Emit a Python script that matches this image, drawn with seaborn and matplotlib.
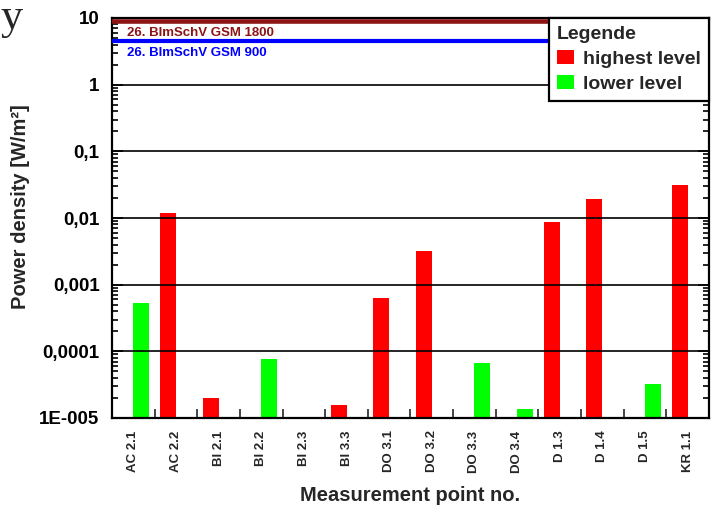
import matplotlib
matplotlib.use("Agg")
import matplotlib.pyplot as plt
import seaborn as sns
import pandas as pd
from matplotlib.ticker import FixedLocator, LogLocator, NullFormatter, FixedFormatter

# Measurement points on the x axis
points = ["AC 2.1", "AC 2.2", "BI 2.1", "BI 2.2", "BI 2.3", "BI 3.3", "DO 3.1",
          "DO 3.2", "DO 3.3", "DO 3.4", "D 1.3", "D 1.4", "D 1.5", "KR 1.1"]
# Which level was measured at each point (None: nothing recorded)
levels = ["lower level", "highest level", "highest level", "lower level", None,
          "highest level", "highest level", "highest level", "lower level",
          "lower level", "highest level", "highest level", "lower level",
          "highest level"]
# Power density in W/m²
power_density = [5.3e-4, 0.012, 2.0e-5, 7.7e-5, None, 1.55e-5, 6.3e-4,
                 3.2e-3, 6.7e-5, 1.36e-5, 8.8e-3, 0.0195, 3.2e-5, 0.031]

level_order = ["highest level", "lower level"]
level_colors = ["#FF0000", "#00FF00"]

# Limit values from the 26. BImSchV
limit_values = [9.0, 4.5]
limit_labels = ["26. BImSchV GSM 1800", "26. BImSchV GSM 900"]
limit_colors = ["#8C1414", "#0000FF"]

y_ticks = [1e-5, 1e-4, 1e-3, 1e-2, 1e-1, 1, 10]
y_tick_labels = ["1E-005", "0,0001", "0,001", "0,01", "0,1", "1", "10"]

df = pd.DataFrame({"point": points, "level": levels, "value": power_density}).dropna()

sns.set_style("white")
plt.rcParams["font.family"] = ["Liberation Sans", "DejaVu Sans"]
plt.rcParams["font.weight"] = "bold"

fig = plt.figure(figsize=(7.17, 5.19), dpi=100)
ax = fig.add_axes([112 / 717, 1 - 418 / 519, 597 / 717, 400 / 519])

sns.barplot(data=df, x="point", y="value", hue="level", order=points,
            hue_order=level_order, palette=dict(zip(level_order, level_colors)),
            width=0.75, dodge=True, saturation=1, errorbar=None, ax=ax,
            edgecolor="none", linewidth=0)

ax.set_yscale("log")
ax.set_ylim(1e-5, 10)
ax.set_xlim(-0.5, len(points) - 0.5)

# y axis: decades with German number format, inward minor ticks on both sides
ax.yaxis.set_major_locator(FixedLocator(y_ticks))
ax.yaxis.set_major_formatter(FixedFormatter(y_tick_labels))
ax.yaxis.set_minor_locator(LogLocator(base=10, subs=range(2, 10), numticks=20))
ax.yaxis.set_minor_formatter(NullFormatter())
ax.tick_params(axis="y", which="both", direction="in", left=True, right=True,
               labelsize=13.5, pad=9, colors="black", width=1.2)
ax.tick_params(axis="y", which="major", length=8)
ax.tick_params(axis="y", which="minor", length=4)
for lbl in ax.get_yticklabels():
    lbl.set_fontweight("bold")

# x axis: rotated point names, separator ticks between the points
ax.set_xticks(range(len(points)))
ax.set_xticklabels(points, rotation=90, fontsize=9.5, fontweight="bold")
ax.xaxis.set_minor_locator(FixedLocator([i + 0.5 for i in range(len(points) - 1)]))
ax.tick_params(axis="x", which="major", length=0, pad=9, bottom=True)
ax.tick_params(axis="x", which="minor", direction="in", length=6.5, width=1.2,
               bottom=True, top=False)

# horizontal grid lines at every decade, drawn over the bars
ax.set_axisbelow(False)
ax.yaxis.grid(True, which="major", color="black", linewidth=1.2)
ax.xaxis.grid(False)

for spine in ax.spines.values():
    spine.set_visible(True)
    spine.set_color("black")
    spine.set_linewidth(1.6)

# limit value lines with their labels
for val, lab, col, lw in zip(limit_values, limit_labels, limit_colors, [3.3, 3.0]):
    ax.axhline(val, color=col, linewidth=lw, zorder=3)
    ax.annotate(lab, xy=(0.025, val), xycoords=("axes fraction", "data"),
                xytext=(0, -8.5), textcoords="offset points", va="center",
                ha="left", color=col, fontsize=9.5, fontweight="bold", zorder=4)

ax.set_ylabel("Power density [W/m²]", fontsize=14.5, fontweight="bold")
ax.yaxis.set_label_coords((30 - 112) / 597, (418 - 207) / 400)
ax.set_xlabel("Measurement point no.", fontsize=14.5, fontweight="bold")
ax.xaxis.set_label_coords(0.5, (418 - 486) / 400)

handles, labels = ax.get_legend_handles_labels()
leg = ax.legend(handles, labels, title="Legende", loc="upper right",
                borderaxespad=0, frameon=True, fancybox=False, shadow=False,
                handlelength=0.85, handleheight=0.8, handletextpad=0.5,
                borderpad=0.4, labelspacing=0.35,
                prop={"size": 14, "weight": "bold"},
                title_fontproperties={"size": 14, "weight": "bold"},
                alignment="left")
leg.get_frame().set_edgecolor("black")
leg.get_frame().set_linewidth(1.6)
leg.get_frame().set_alpha(1)
leg.set_zorder(10)

fig.text(0.5 / 717, 1 - 29 / 519, "y", fontsize=32, family=["Liberation Serif", "DejaVu Serif"],
         fontweight="normal", ha="left", va="baseline")

fig.savefig("out.png", dpi=100)
